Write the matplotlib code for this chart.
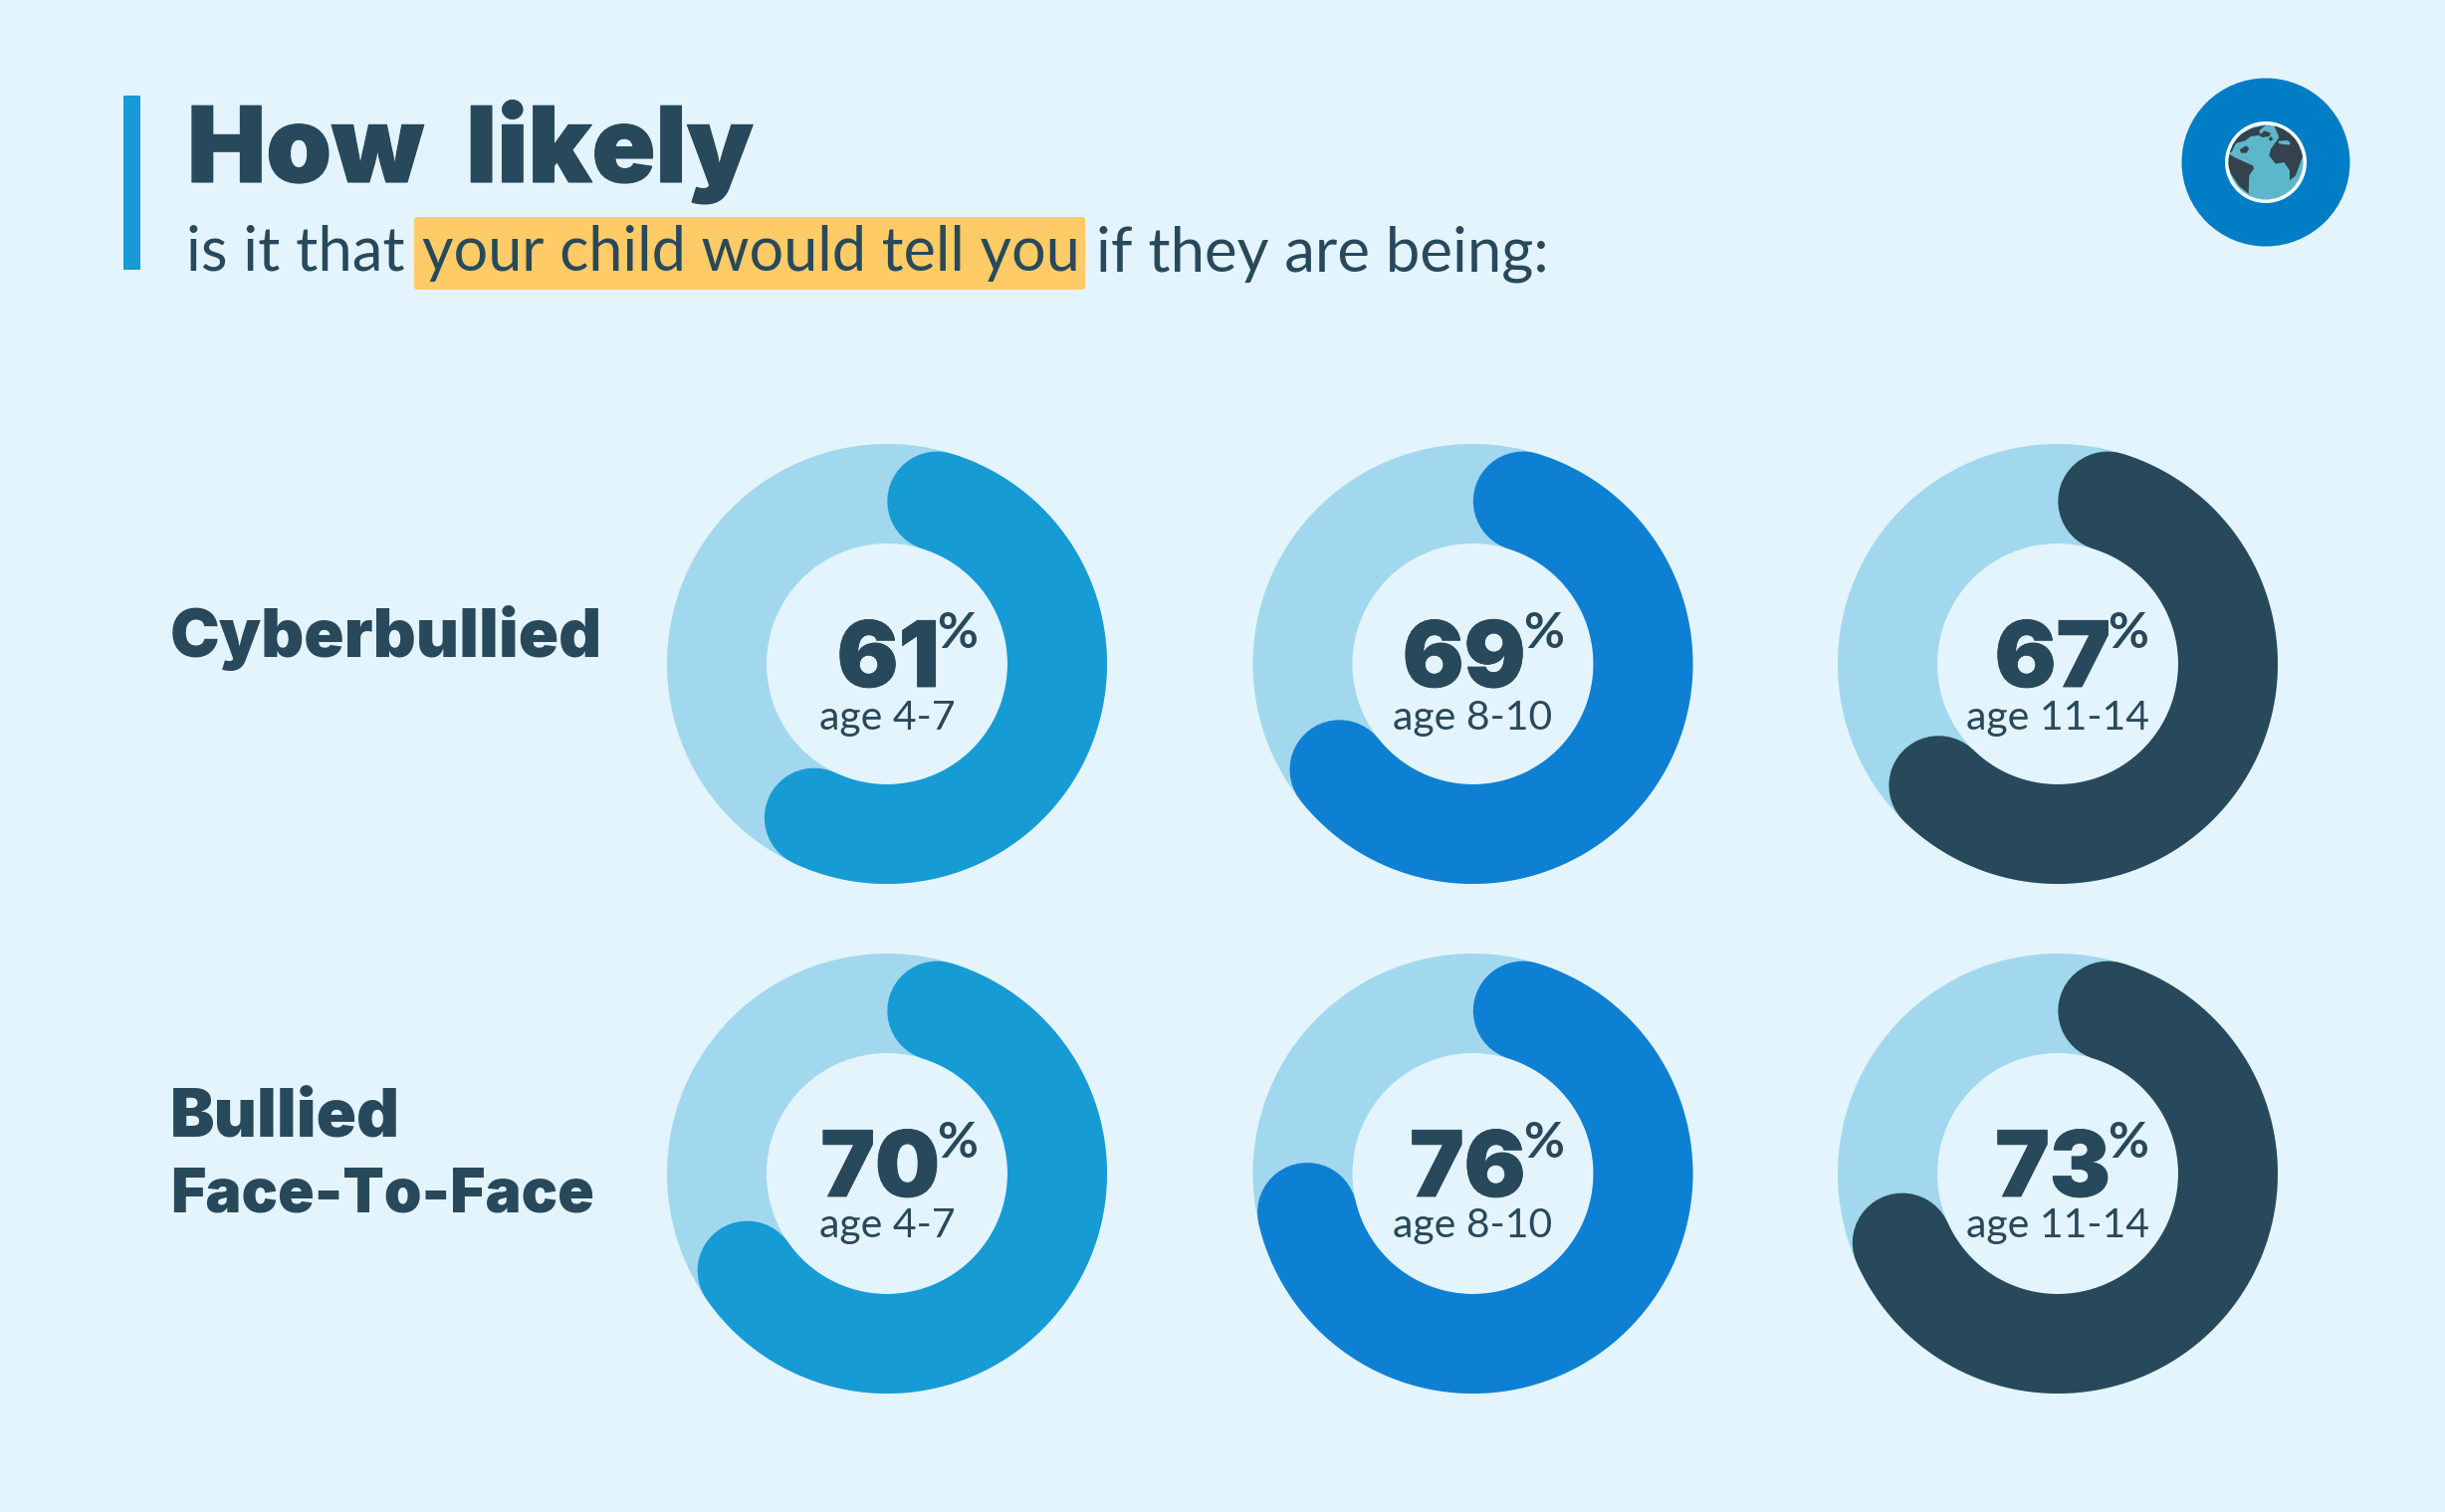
#!/usr/bin/env python3
import numpy as np
import matplotlib
matplotlib.use("Agg")
import matplotlib.pyplot as plt
import matplotlib.patheffects as pe
from matplotlib.patches import Circle, Polygon, Rectangle, FancyBboxPatch

# values
age_groups = ["age 4-7", "age 8-10", "age 11-14"]
cyberbullied = [61, 69, 67]
face_to_face = [70, 76, 73]
# the 61 arc is drawn a little longer than its label
cyberbullied_arc = [61.7, 69, 67]
face_to_face_arc = [70, 76, 73]

BG = "#E4F4FC"
TRACK = "#A2D8EE"
DARK = "#28495B"
COLORS = ["#169BD5", "#0E80D4", "#28495B"]
HIGHLIGHT = "#FFCB66"

HEAD = "Inter"
BODY = "Lato"

# donut geometry in pixels
CENTER_X = [891, 1479.5, 2067]
CENTER_Y = [667, 1179]
AGE_DROP = [66, 64]
R_OUT = 221
R_IN = 121
R_MID = (R_OUT + R_IN) / 2
BAND = R_OUT - R_IN

# globe icon outlines, traced on a 300 unit box around the icon centre
land_band = [(33, 125), (50, 90), (75, 65), (110, 47), (150, 38), (130, 55), (135, 68), (105, 72), (88, 85), (62, 92),
             (56, 100), (48, 118)]
land_south = [(30, 118), (55, 135), (110, 160), (115, 168), (100, 190), (98, 245), (70, 222), (45, 185), (30, 145)]
land_spot = [(72, 112), (90, 100), (100, 108), (92, 122), (75, 122)]
land_isle1 = [(130, 70), (145, 55), (165, 62), (160, 72), (140, 75)]
land_isle2 = [(158, 80), (165, 72), (172, 80), (165, 87)]
land_east = [(175, 40), (190, 75), (165, 110), (160, 130), (180, 155), (205, 150), (222, 175), (222, 205), (240, 190),
             (262, 130), (245, 85), (220, 60), (195, 40)]
sea_finger = [(188, 86), (215, 84), (223, 90), (222, 98), (205, 96), (190, 94)]


def stroke(width):
    # a touch heavier than the installed black weight
    return [pe.withStroke(linewidth=width, foreground=DARK)]


def draw_donut(ax, cx, cy, value, arc, color, age, age_drop):
    ax.add_patch(Circle((cx, cy), R_OUT, fc=TRACK, ec="none", zorder=1))
    ax.add_patch(Circle((cx, cy), R_IN, fc=BG, ec="none", zorder=1))
    # the rounded ends sit inside the value's sweep
    cap = np.degrees(np.arctan(BAND / 2 / R_MID))
    sweep = np.radians(np.linspace(cap + 0.8, arc * 3.6 - cap - 0.5, 240))
    lw = BAND * 72 / fig.dpi
    ax.plot(cx + R_MID * np.sin(sweep), cy - R_MID * np.cos(sweep), color=color, lw=lw,
            solid_capstyle="round", zorder=2)
    ax.text(cx + 53, cy + 23, str(value), family=HEAD, weight=900, fontsize=66, color=DARK,
            ha="right", va="baseline", zorder=3, path_effects=stroke(0.6))
    ax.text(cx + 71, cy - 16, "%", family=BODY, weight="bold", fontsize=36, color=DARK,
            ha="center", va="baseline", zorder=3)
    ax.text(cx, cy + age_drop, age, family=BODY, fontsize=29.5, color=DARK, ha="center", va="baseline", zorder=3)


fig = plt.figure(figsize=(24.56, 15.19), dpi=100, facecolor=BG)
ax = fig.add_axes([0, 0, 1, 1])
ax.set_xlim(0, 2456)
ax.set_ylim(1519, 0)
ax.axis("off")

# header
ax.add_patch(Rectangle((124, 96), 17, 175, fc=COLORS[0], ec="none"))
ax.text(188, 183, "How", family=HEAD, weight=900, fontsize=76, color=DARK, va="baseline", path_effects=stroke(0.8))
ax.text(468, 183, "likely", family=HEAD, weight=900, fontsize=76, color=DARK, va="baseline", path_effects=stroke(0.8))
ax.add_patch(FancyBboxPatch((419, 221), 668, 67, boxstyle="round,pad=3,rounding_size=3", fc=HIGHLIGHT, ec="none"))
ax.text(187, 272, "is it that", family=BODY, fontsize=44.5, color=DARK, va="baseline")
ax.text(424, 272, "your child would tell you", family=BODY, fontsize=44, color=DARK, va="baseline")
ax.text(1101, 272, "if they are being:", family=BODY, fontsize=44.5, color=DARK, va="baseline")

# globe badge
GX, GY = 2276, 163
ax.add_patch(Circle((GX, GY), 84.5, fc="#007DC5", ec="none"))
ax.add_patch(Circle((GX, GY), 41, fc="white", ec="none"))
ocean = Circle((GX, GY), 37.5, fc="#5DB7CB", ec="none")
ax.add_patch(ocean)
for shape, fill in [(land_band, "#33424C"), (land_south, "#33424C"), (land_spot, "#33424C"), (land_isle1, "#33424C"),
                    (land_isle2, "#33424C"), (land_east, "#33424C"), (sea_finger, "#5DB7CB")]:
    land = Polygon([(GX + (x - 150) / 3, GY + (y - 150) / 3) for x, y in shape], fc=fill, ec="none")
    ax.add_patch(land)
    land.set_clip_path(ocean)

# row labels
ax.text(171, 660, "Cyberbullied", family=HEAD, weight=900, fontsize=48, color=DARK, va="baseline")
ax.text(171, 1142, "Bullied", family=HEAD, weight=900, fontsize=48, color=DARK, va="baseline")
ax.text(171, 1218, "Face-To-Face", family=HEAD, weight=900, fontsize=43.5, color=DARK, va="baseline")

for cy, drop, row, arcs in zip(CENTER_Y, AGE_DROP, [cyberbullied, face_to_face], [cyberbullied_arc, face_to_face_arc]):
    for cx, value, arc, color, age in zip(CENTER_X, row, arcs, COLORS, age_groups):
        draw_donut(ax, cx, cy, value, arc, color, age, drop)

fig.savefig("out.png", dpi=100, facecolor=BG)
